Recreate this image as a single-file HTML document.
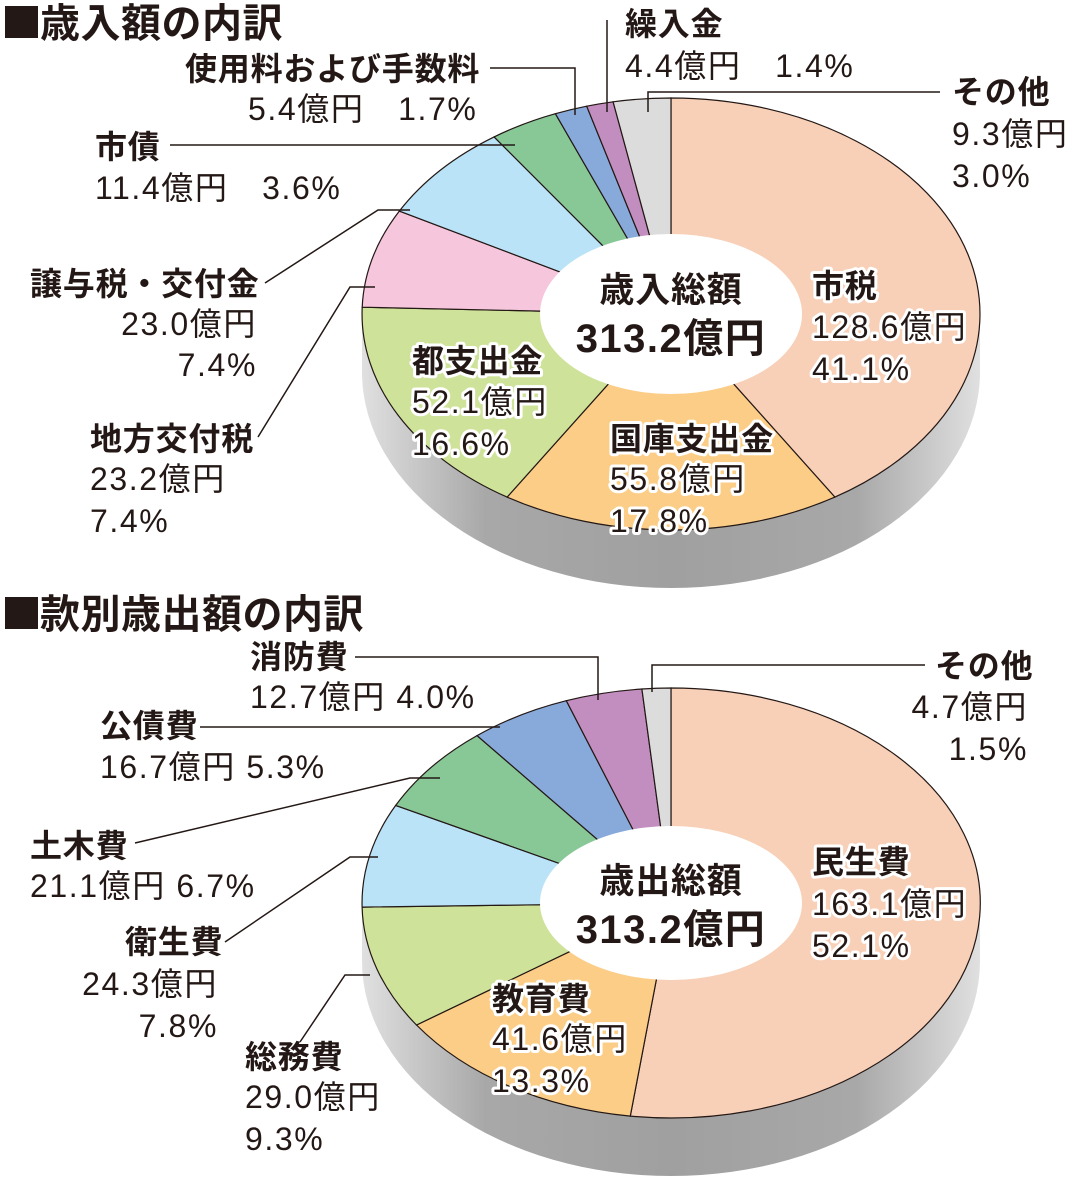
<!DOCTYPE html>
<html><head><meta charset="utf-8"><style>
html,body{margin:0;padding:0;background:#fff;}
svg{display:block;}
text{font-family:"Liberation Sans","Noto Sans CJK JP",sans-serif;fill:#231815;font-size:32px;letter-spacing:1.6px;}
.b{font-weight:bold;font-size:32px;letter-spacing:0.8px;}
.t{font-size:40px;font-weight:bold;letter-spacing:0.5px;}
.h{stroke:#fff;stroke-width:6px;paint-order:stroke;stroke-linejoin:round;}
line,polyline{stroke:#231815;stroke-width:1.5;fill:none;}
</style></head><body>
<svg id="s" width="1085" height="1179" viewBox="0 0 1085 1179" xmlns="http://www.w3.org/2000/svg">
<defs>
<linearGradient id="g" x1="0" x2="1" y1="0" y2="0">
<stop offset="0" stop-color="#e0e0e0"/><stop offset="0.2" stop-color="#a8a8a8"/><stop offset="0.5" stop-color="#a0a0a0"/><stop offset="0.8" stop-color="#a8a8a8"/><stop offset="1" stop-color="#e0e0e0"/>
</linearGradient>
</defs>
<g id="p1"></g>
<g id="p2"></g>

<rect x="5" y="6" width="33" height="32" fill="#231815"/>
<text x="40" y="37" class="t">歳入額の内訳</text>
<text x="185" y="80" class="b">使用料および手数料</text>
<text x="248" y="120">5.4億円　1.7%</text>
<text x="625" y="35" class="b">繰入金</text>
<text x="625" y="77">4.4億円　1.4%</text>
<text x="952" y="103" class="b">その他</text>
<text x="952" y="145">9.3億円</text>
<text x="952" y="187">3.0%</text>
<text x="95" y="158" class="b">市債</text>
<text x="95" y="199">11.4億円　3.6%</text>
<text x="30" y="295" class="b">譲与税・交付金</text>
<text x="257" y="335" text-anchor="end">23.0億円</text>
<text x="257" y="376" text-anchor="end">7.4%</text>
<text x="90" y="450" class="b">地方交付税</text>
<text x="90" y="490">23.2億円</text>
<text x="90" y="532">7.4%</text>
<text x="812" y="297" class="b h">市税</text>
<text x="812" y="338" class="h">128.6億円</text>
<text x="812" y="380" class="h">41.1%</text>
<text x="412" y="372" class="b h">都支出金</text>
<text x="412" y="413" class="h">52.1億円</text>
<text x="412" y="455" class="h">16.6%</text>
<text x="610" y="450" class="b h">国庫支出金</text>
<text x="610" y="490" class="h">55.8億円</text>
<text x="610" y="532" class="h">17.8%</text>
<text x="671" y="302" text-anchor="middle" class="b" style="font-size:35px">歳入総額</text>
<text x="671" y="352" text-anchor="middle" class="b" style="font-size:40px;letter-spacing:1.5px">313.2億円</text>
<polyline points="490,68 575,68 575,115"/>
<polyline points="607,20 607,112"/>
<polyline points="940,92 648,92 648,112"/>
<polyline points="170,145 515,145"/>
<polyline points="265,283 378,210 410,210"/>
<polyline points="258,437 350,287 375,287"/>

<rect x="5" y="597" width="33" height="32" fill="#231815"/>
<text x="40" y="628" class="t">款別歳出額の内訳</text>
<text x="250" y="668" class="b">消防費</text>
<text x="250" y="708">12.7億円 4.0%</text>
<text x="935" y="677" class="b">その他</text>
<text x="1028" y="718" text-anchor="end">4.7億円</text>
<text x="1028" y="760" text-anchor="end">1.5%</text>
<text x="100" y="737" class="b">公債費</text>
<text x="100" y="778">16.7億円 5.3%</text>
<text x="30" y="857" class="b">土木費</text>
<text x="30" y="897">21.1億円 6.7%</text>
<text x="125" y="953" class="b">衛生費</text>
<text x="218" y="995" text-anchor="end">24.3億円</text>
<text x="218" y="1037" text-anchor="end">7.8%</text>
<text x="245" y="1068" class="b">総務費</text>
<text x="245" y="1108">29.0億円</text>
<text x="245" y="1150">9.3%</text>
<text x="812" y="873" class="b h">民生費</text>
<text x="812" y="915" class="h">163.1億円</text>
<text x="812" y="957" class="h">52.1%</text>
<text x="492" y="1010" class="b h">教育費</text>
<text x="492" y="1050" class="h">41.6億円</text>
<text x="492" y="1092" class="h">13.3%</text>
<text x="671" y="893" text-anchor="middle" class="b" style="font-size:35px">歳出総額</text>
<text x="671" y="943" text-anchor="middle" class="b" style="font-size:40px;letter-spacing:1.5px">313.2億円</text>
<polyline points="355,657 598,657 598,700"/>
<polyline points="925,665 652,665 652,692"/>
<polyline points="200,727 500,727"/>
<polyline points="135,843 410,778 440,778"/>
<polyline points="225,942 350,857 378,857"/>
<polyline points="300,1042 345,975 370,975"/>
</svg>
<script>
function pie(gid,cx,cy,rx,ry,d,vals,cols,irx,iry){
 var g=document.getElementById(gid),h="";
 h+='<path d="M'+(cx-rx)+','+cy+' L'+(cx-rx)+','+(cy+d)+' A'+rx+','+ry+' 0 0 0 '+(cx+rx)+','+(cy+d)+' L'+(cx+rx)+','+cy+' Z" fill="url(#g)"/>';
 var tot=vals.reduce(function(a,b){return a+b},0),a=0;
 for(var i=0;i<vals.length;i++){
  var a0=a/tot*2*Math.PI;a+=vals[i];var a1=a/tot*2*Math.PI;
  var x0=cx+rx*Math.sin(a0),y0=cy-ry*Math.cos(a0),x1=cx+rx*Math.sin(a1),y1=cy-ry*Math.cos(a1);
  var lg=(a1-a0)>Math.PI?1:0;
  h+='<path d="M'+cx+','+cy+' L'+x0.toFixed(1)+','+y0.toFixed(1)+' A'+rx+','+ry+' 0 '+lg+' 1 '+x1.toFixed(1)+','+y1.toFixed(1)+' Z" fill="'+cols[i]+'" stroke="#231815" stroke-width="1.2"/>';
 }
 h+='<ellipse cx="'+cx+'" cy="'+cy+'" rx="'+irx+'" ry="'+iry+'" fill="#fff"/>';
 g.innerHTML=h;
}
pie("p1",671,314,309,216,58,[41.1,17.8,16.6,7.4,7.4,3.6,1.7,1.4,3.0],
 ["#f8cfb7","#fbcd87","#cfe29a","#f5c6dc","#bae3f7","#88c897","#88aadb","#c28ebf","#dcdcdc"],131,80);
pie("p2",671,903,309,215,58,[52.1,13.3,9.3,7.8,6.7,5.3,4.0,1.5],
 ["#f8cfb7","#fbcd87","#cfe29a","#bae3f7","#88c897","#88aadb","#c28ebf","#dcdcdc"],131,77);
</script>
</body></html>
